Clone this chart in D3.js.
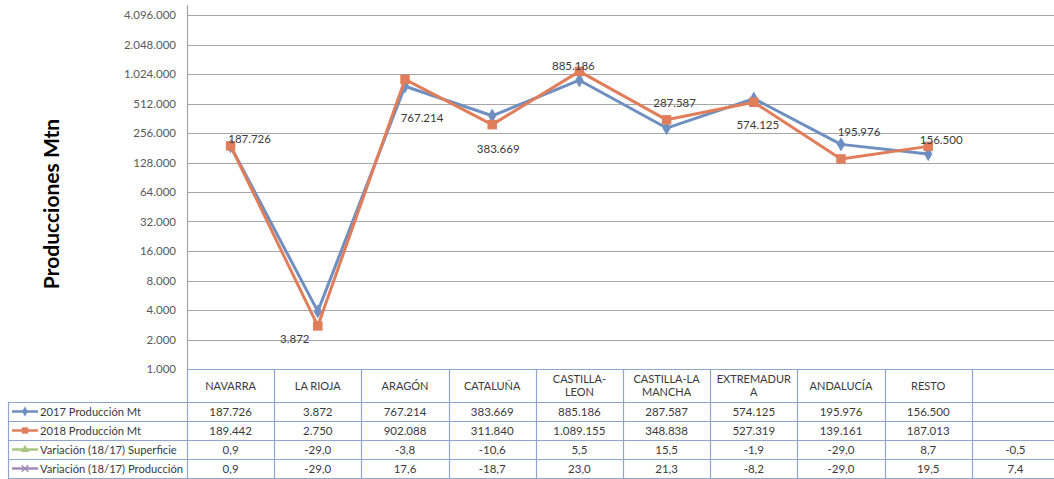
<!DOCTYPE html>
<html>
<head>
<meta charset="utf-8">
<script src="https://cdn.jsdelivr.net/npm/d3@7"></script>
<style>
  body { margin: 0; background: #fff; }
  svg { display: block; }
  text { font-family: Lato, "Open Sans", sans-serif; }
</style>
</head>
<body>
<div id="chart"></div>
<script>
// categorías (columnas de la tabla); la última columna no tiene nombre
const regions = ["NAVARRA", "LA RIOJA", "ARAGÓN", "CATALUÑA", "CASTILLA-\nLEON",
  "CASTILLA-LA\nMANCHA", "EXTREMADUR\nA", "ANDALUCÍA", "RESTO", ""];
const prod2017 = [187726, 3872, 767214, 383669, 885186, 287587, 574125, 195976, 156500, null];
const prod2018 = [189442, 2750, 902088, 311840, 1089155, 348838, 527319, 139161, 187013, null];
const varSuperficie = [0.9, -29.0, -3.8, -10.6, 5.5, 15.5, -1.9, -29.0, 8.7, -0.5];
const varProduccion = [0.9, -29.0, 17.6, -18.7, 23.0, 21.3, -8.2, -29.0, 19.5, 7.4];
const yTicks = [1000, 2000, 4000, 8000, 16000, 32000, 64000, 128000, 256000,
  512000, 1024000, 2048000, 4096000];
const seriesNames = ["2017 Producción Mt", "2018 Producción Mt",
  "Variación (18/17) Superficie", "Variación (18/17) Producción"];

// posiciones de las etiquetas de datos (serie 2017), relativas al punto
const labelOffsets = [[19, -7], [-23, 28], [17, 32], [6, 33], [-6, -14],
  [8, -25], [4, 26], [18, -12], [13, -14]];

const width = 1054, height = 479;
const plotLeft = 187, colW = 87.2, plotTop = 15, plotBottom = 369;
const rowY = [369, 402, 421, 440, 459, 478];
const tableLeft = 8;

const es = d3.formatLocale({ decimal: ",", thousands: ".", grouping: [3], currency: ["", "€"], minus: "-" });
const fmtInt = es.format(",.0f");
const fmtDec = es.format(",.1f");

const colors = { blue: "#6f8fc0", orange: "#e07e5c", green: "#a9c47f", purple: "#a08ab8",
  grid: "#a6a6a6", table: "#8ea6cc", text: "#3a3a3a" };

const svg = d3.select("#chart").append("svg")
  .attr("width", width).attr("height", height);

const x = d3.scaleBand().domain(d3.range(regions.length))
  .range([plotLeft, plotLeft + colW * regions.length]);
const y = d3.scaleLog().base(2).domain([1000, 4096000]).range([plotBottom, plotTop]);
const cx = i => x(i) + x.bandwidth() / 2;

// rejilla
svg.append("g").selectAll("line")
  .data(yTicks.slice(1))
  .enter().append("line")
  .attr("x1", plotLeft).attr("x2", width)
  .attr("y1", d => Math.round(y(d)) + 0.5).attr("y2", d => Math.round(y(d)) + 0.5)
  .attr("stroke", colors.grid).attr("stroke-width", 1.2);

// eje Y
const yAxis = svg.append("g")
  .attr("transform", `translate(${plotLeft},0)`)
  .call(d3.axisLeft(y).tickValues(yTicks).tickFormat(fmtInt).tickSize(0).tickPadding(11));
yAxis.select(".domain").remove();
yAxis.selectAll("text").attr("fill", "#595959").style("font-size", "11.5px")
  .style("font-family", "Lato, sans-serif");
svg.append("line")
  .attr("x1", plotLeft + 0.5).attr("x2", plotLeft + 0.5)
  .attr("y1", 5).attr("y2", plotBottom)
  .attr("stroke", colors.grid).attr("stroke-width", 1.2);

svg.append("text")
  .attr("transform", `translate(59,${(plotTop + plotBottom) / 2 + 12}) rotate(-90)`)
  .attr("text-anchor", "middle")
  .attr("fill", "#000")
  .style("font-size", "21px").style("font-weight", "bold")
  .text("Producciones Mtn");

// tabla de datos
const tbl = svg.append("g");
const tableRight = plotLeft + colW * regions.length;
tbl.append("line").attr("x1", plotLeft).attr("x2", tableRight)
  .attr("y1", rowY[0] + 0.5).attr("y2", rowY[0] + 0.5);
rowY.slice(1).forEach(ry => {
  tbl.append("line").attr("x1", tableLeft).attr("x2", tableRight)
    .attr("y1", ry + 0.5).attr("y2", ry + 0.5);
});
tbl.append("line").attr("x1", tableLeft + 0.5).attr("x2", tableLeft + 0.5)
  .attr("y1", rowY[1]).attr("y2", rowY[5]);
d3.range(regions.length + 1).forEach(i => {
  const vx = Math.round(plotLeft + colW * i) + 0.5;
  tbl.append("line").attr("x1", vx).attr("x2", vx)
    .attr("y1", rowY[0]).attr("y2", rowY[5]);
});
tbl.selectAll("line").attr("stroke", colors.table).attr("stroke-width", 1.2);

// cabecera
regions.forEach((r, i) => {
  const lines = r.split("\n");
  const t = tbl.append("text")
    .attr("x", cx(i)).attr("text-anchor", "middle")
    .attr("fill", colors.text).style("font-size", "11px");
  lines.forEach((ln, k) => {
    t.append("tspan").attr("x", cx(i))
      .attr("y", (rowY[0] + rowY[1]) / 2 + 4 + (k - (lines.length - 1) / 2) * 13)
      .text(ln);
  });
});

const rows = [
  { values: prod2017, fmt: fmtInt, color: colors.blue, marker: "diamond" },
  { values: prod2018, fmt: fmtInt, color: colors.orange, marker: "square" },
  { values: varSuperficie, fmt: fmtDec, color: colors.green, marker: "triangle" },
  { values: varProduccion, fmt: fmtDec, color: colors.purple, marker: "cross" }
];
const symbolType = { diamond: d3.symbolDiamond, square: d3.symbolSquare,
  triangle: d3.symbolTriangle, cross: d3.symbolX };

rows.forEach((row, r) => {
  const ry = (rowY[r + 1] + rowY[r + 2]) / 2;
  row.values.forEach((v, i) => {
    if (v == null) return;
    tbl.append("text").attr("x", cx(i)).attr("y", ry + 4)
      .attr("text-anchor", "middle").attr("fill", colors.text)
      .style("font-size", "11.5px").text(row.fmt(v));
  });
  // clave de leyenda
  tbl.append("line").attr("x1", 12).attr("x2", 38).attr("y1", ry).attr("y2", ry)
    .attr("stroke", row.color).attr("stroke-width", 2.5);
  tbl.append("path").attr("transform", `translate(25,${ry})`)
    .attr("d", d3.symbol().type(symbolType[row.marker]).size(row.marker === "square" ? 40 : 30)())
    .attr("fill", row.marker === "cross" ? "none" : row.color)
    .attr("stroke", row.marker === "cross" ? row.color : "none")
    .attr("stroke-width", 1.5);
  tbl.append("text").attr("x", 40).attr("y", ry + 4)
    .attr("fill", colors.text).style("font-size", "11.2px").text(seriesNames[r]);
});

// series
const line = d3.line().defined(d => d.v != null).x(d => cx(d.i)).y(d => y(d.v));
const series = [
  { values: prod2017, color: colors.blue, marker: d3.symbolDiamond, size: 60 },
  { values: prod2018, color: colors.orange, marker: d3.symbolSquare, size: 90 }
];
series.forEach(s => {
  const pts = s.values.map((v, i) => ({ v, i }));
  svg.append("path").datum(pts)
    .attr("d", line).attr("fill", "none")
    .attr("stroke", s.color).attr("stroke-width", 3).attr("stroke-linejoin", "round");
  svg.append("g").selectAll("path")
    .data(pts.filter(d => d.v != null))
    .enter().append("path")
    .attr("transform", d => `translate(${cx(d.i)},${y(d.v)})`)
    .attr("d", d3.symbol().type(s.marker).size(s.size))
    .attr("fill", s.color);
});

// etiquetas de datos
svg.append("g").selectAll("text")
  .data(prod2017.filter(v => v != null))
  .enter().append("text")
  .attr("x", (d, i) => cx(i) + labelOffsets[i][0])
  .attr("y", (d, i) => y(d) + labelOffsets[i][1] + 4)
  .attr("text-anchor", "middle")
  .attr("fill", colors.text)
  .style("font-size", "11.5px")
  .text(d => fmtInt(d));
</script>
</body>
</html>
